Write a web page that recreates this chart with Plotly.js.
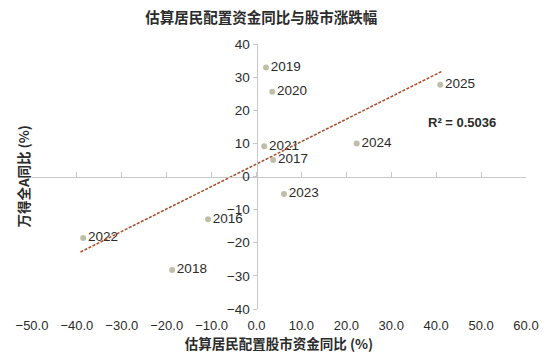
<!DOCTYPE html>
<html><head><meta charset="utf-8">
<script src="https://cdn.plot.ly/plotly-3.0.1.min.js"></script>
<style>html,body{margin:0;padding:0;background:#fff}</style>
</head><body><div id="chart" style="width:550px;height:357px"></div>
<script>
const years = ['2019','2020','2025','2021','2017','2024','2023','2016','2022','2018'];
const fundYoY = [2.1, 3.5, 40.9, 1.7, 3.7, 22.3, 6.1, -10.8, -38.6, -18.8];
const stockYoY = [32.9, 25.6, 27.7, 9.1, 5.0, 10.0, -5.3, -12.9, -18.6, -28.2];
const trendX = [-39.2, 41.2];
const trendY = [-22.8, 31.7];
const xTicks = [-50, -40, -30, -20, -10, 0, 10, 20, 30, 40, 50, 60];
const yTicks = [-40, -30, -20, -10, 0, 10, 20, 30, 40];
const rSquared = 'R² = 0.5036';

const FONT = 'Liberation Sans, Arial, Noto Sans CJK SC, sans-serif';
const CJK = 'Noto Sans CJK SC, sans-serif';
const AXC = '#c8c8c8';
const TXT = '#2b2b2b';

const traces = [
  {x: fundYoY, y: stockYoY, text: years, type: 'scatter', mode: 'markers+text',
   textposition: 'middle right', textfont: {family: FONT, size: 13.5, color: TXT},
   marker: {color: '#bfbfa9', size: 6}, xaxis: 'x', yaxis: 'y', hoverinfo: 'none', cliponaxis: false},
  {x: trendX, y: trendY, type: 'scatter', mode: 'lines', xaxis: 'x2', yaxis: 'y',
   line: {color: '#ad4a24', width: 1.5, dash: '3px,1.5px'}, hoverinfo: 'none'}
];

const layout = {
  width: 550, height: 357,
  margin: {l: 32, r: 24, t: 44, b: 48},
  paper_bgcolor: '#fff', plot_bgcolor: '#fff',
  showlegend: false,
  font: {family: FONT, color: TXT, size: 13},
  title: {text: '<b>估算居民配置资金同比与股市涨跌幅</b>', x: 0.475, xanchor: 'center',
          y: 0.95, yanchor: 'middle', font: {family: CJK, size: 14.5, color: TXT}},
  xaxis: {range: [-50, 60], tickvals: xTicks, tickformat: '.1f', showline: false, ticks: '',
          showgrid: false, zeroline: false, tickfont: {size: 13, color: TXT}, ticklabelstandoff: 7,
          title: {text: '<b>估算居民配置股市资金同比 (%)</b>', standoff: 6,
                  font: {family: CJK, size: 13.5, color: TXT}}},
  xaxis2: {range: [-50, 60], overlaying: 'x', anchor: 'free', position: 0.5, side: 'bottom',
           tickvals: xTicks, showticklabels: false, showline: true, linecolor: AXC, linewidth: 1,
           ticks: 'inside', ticklen: 5, tickcolor: AXC, showgrid: false, zeroline: false},
  yaxis: {range: [-40, 40], tickvals: yTicks, anchor: 'free', position: 50/110, side: 'left',
          showline: true, linecolor: AXC, linewidth: 1, ticks: 'outside', ticklen: 4, tickcolor: AXC,
          showgrid: false, zeroline: false, tickfont: {size: 13.5, color: TXT}},
  annotations: [
    {text: '<b>万得全A同比 (%)</b>', textangle: -90, xref: 'paper', yref: 'paper',
     x: -0.02, y: 0.5, xanchor: 'center', yanchor: 'middle', showarrow: false,
     font: {family: CJK, size: 13.5, color: TXT}},
    {text: '<b>' + rSquared + '</b>', xref: 'paper', yref: 'paper',
     x: (425.7 - 32) / 494, y: (309 - 122.3) / 265, xanchor: 'left', yanchor: 'middle',
     showarrow: false, font: {family: FONT, size: 13, color: TXT}}
  ]
};

Plotly.newPlot('chart', traces, layout, {staticPlot: true});
</script></body></html>
